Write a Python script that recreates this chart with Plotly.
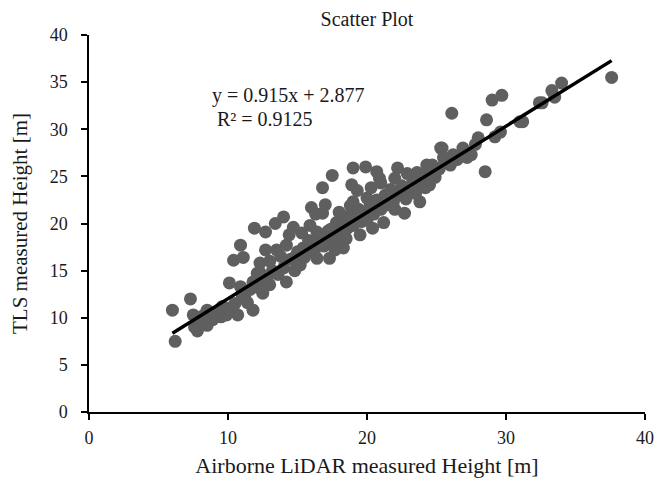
import plotly.graph_objects as go

# Airborne LiDAR height (x) and TLS height (y)
x_als = [6.0, 6.2, 7.3, 7.5, 7.8, 8.0, 8.3, 8.5, 8.9, 9.3, 9.5, 9.9, 10.1, 10.4, 10.7, 10.9, 10.9, 11.1,
         11.2, 11.4, 11.8, 11.6, 12.1, 12.3, 12.5, 12.7,
         11.9, 12.7, 13.4, 14.0, 14.7, 13.5, 14.2, 16.0, 16.8, 17.5, 18.9, 18.8, 16.8, 15.9, 16.4, 17.8,
         12.3, 11.8, 13.0, 14.2, 14.0, 15.2, 16.4, 17.3, 18.3, 17.8, 17.1, 15.4,
         19.0, 19.9, 20.7, 19.0, 20.0, 20.9, 22.2, 22.9, 23.6, 24.3, 25.3, 22.7, 21.2, 20.4, 19.5, 18.6,
         23.8, 24.5, 21.9,
         26.1, 29.0, 29.7, 28.6, 31.0, 29.6, 29.2, 28.0, 28.5, 26.9, 25.4, 25.5, 26.2, 24.7, 27.2, 32.4,
         37.6, 34.0, 33.3, 33.5, 32.6, 31.2,
         12.0, 12.8, 13.2, 13.6, 14.5, 14.8, 15.0, 15.5, 15.8, 16.0, 16.2, 16.6, 16.9, 17.2, 17.5, 17.7,
         18.0, 18.2, 18.5, 18.7, 19.0, 19.2, 19.4, 19.6, 19.8, 20.0, 20.2, 20.5, 20.7, 21.0, 21.3, 21.5,
         21.7, 22.0, 22.2, 22.5, 22.8, 23.0, 23.3, 23.5, 23.8, 24.0, 24.2, 24.6, 24.9, 25.2, 25.6, 26.0,
         26.5, 27.0, 27.5, 27.8, 17.0, 18.0, 19.3, 20.3, 21.0, 22.0, 16.3, 15.3, 14.4, 13.8, 13.0, 12.2,
         11.0, 10.5, 10.0, 9.0, 8.5, 7.6, 8.2, 9.6,
         19.5, 20.6, 21.8, 22.6, 23.4, 24.4, 18.4, 17.4, 16.6, 15.6, 14.9, 13.3]
y_tls = [10.8, 7.5, 12.0, 10.3, 8.6, 9.3, 9.8, 10.8, 9.8, 10.6, 10.1, 10.3, 13.7, 16.1, 10.3, 13.3, 17.7, 16.4,
         12.2, 11.6, 10.8, 13.0, 14.7, 15.8, 12.6, 17.2,
         19.5, 19.1, 20.0, 20.7, 19.6, 17.2, 17.7, 21.7, 23.8, 25.1, 24.1, 21.9, 21.1, 19.8, 19.1, 20.1,
         14.8, 13.8, 13.5, 13.8, 15.3, 15.6, 16.3, 16.3, 17.4, 18.0, 18.0, 17.4,
         25.9, 26.0, 25.5, 22.3, 22.7, 24.8, 25.9, 25.3, 25.4, 26.2, 28.0, 21.1, 20.1, 19.5, 18.8, 19.5,
         22.3, 24.1, 22.3,
         31.7, 33.1, 33.6, 31.0, 30.8, 29.7, 29.2, 29.1, 25.5, 28.0, 28.0, 27.0, 27.3, 26.2, 27.0, 32.8,
         35.5, 34.9, 34.1, 33.4, 32.8, 30.8,
         13.5, 14.0, 15.0, 14.6, 16.2, 15.0, 17.0, 16.4, 18.2, 17.5, 17.0, 18.5, 17.6, 19.2, 18.6, 17.2,
         19.0, 20.5, 18.4, 20.8, 19.8, 20.9, 21.5, 20.2, 21.2, 20.4, 21.8, 21.0, 22.5, 21.5, 23.0, 22.0,
         23.6, 21.5, 23.0, 24.0, 22.6, 23.8, 24.6, 23.2, 24.8, 25.0, 23.8, 25.5, 24.9, 25.8, 26.5, 26.2,
         26.8, 27.6, 27.3, 28.4, 22.0, 21.2, 23.5, 23.8, 24.3, 24.8, 21.0, 19.0, 18.8, 16.5, 16.0, 13.2,
         12.5, 11.5, 11.0, 10.0, 9.2, 9.0, 10.2, 11.2,
         20.8, 22.0, 22.8, 23.4, 24.2, 24.8, 19.6, 19.4, 18.0, 16.9, 16.6, 14.8]

slope = 0.915
intercept = 2.877
r2 = 0.9125

x_ticks = [0, 10, 20, 30, 40]
y_ticks = [0, 5, 10, 15, 20, 25, 30, 35, 40]

FONT = "Liberation Serif"
TXT = "#1a1a1a"

# the page body adds an 8 px offset, so the figure is 8 px smaller on each axis
W, H = 656, 471

fig = go.Figure()
fig.add_trace(go.Scatter(
    x=x_als, y=y_tls, mode="markers",
    marker=dict(color="#5f5f5f", size=13, line=dict(width=0)),
    showlegend=False, hoverinfo="x+y"))

x_lo, x_hi = min(x_als), max(x_als)
fig.add_trace(go.Scatter(
    x=[x_lo, x_hi], y=[slope * x_lo + intercept, slope * x_hi + intercept],
    mode="lines", line=dict(color="black", width=3.5), showlegend=False))

fig.add_annotation(x=14.32, y=33.6, xref="x", yref="y", showarrow=False,
                   text=f"y = {slope}x + {intercept}",
                   font=dict(family=FONT, size=20, color=TXT))
fig.add_annotation(x=12.66, y=31.1, xref="x", yref="y", showarrow=False,
                   text=f"R² = {r2}",
                   font=dict(family=FONT, size=20, color=TXT))

fig.update_layout(
    width=W, height=H,
    margin=dict(l=81, r=19, t=27, b=67),
    paper_bgcolor="white", plot_bgcolor="white",
    font=dict(family=FONT, size=18, color=TXT),
    title=dict(text="Scatter Plot", x=0.5, xanchor="center", xref="paper",
               y=1 - 11 / H, yanchor="middle", yref="container",
               font=dict(family=FONT, size=20, color=TXT)),
    xaxis=dict(range=[0, 40], tickvals=x_ticks, showgrid=False, zeroline=False,
               showline=True, linecolor="black", linewidth=1.5, automargin=False,
               ticks="outside", ticklen=6, tickcolor="black", tickwidth=1.5,
               ticklabelstandoff=3,
               tickfont=dict(family=FONT, size=18, color=TXT),
               title=dict(text="Airborne LiDAR measured Height [m]", standoff=10,
                          font=dict(family=FONT, size=22, color=TXT))),
    yaxis=dict(range=[0, 40], tickvals=y_ticks, showgrid=False, zeroline=False,
               showline=True, linecolor="black", linewidth=1.5, automargin=False,
               ticks="outside", ticklen=6, tickcolor="black", tickwidth=1.5,
               ticklabelstandoff=10,
               tickfont=dict(family=FONT, size=18, color=TXT),
               title=dict(text="TLS measured Height [m]", standoff=18,
                          font=dict(family=FONT, size=21, color=TXT))),
)

fig.write_html("out.html")
